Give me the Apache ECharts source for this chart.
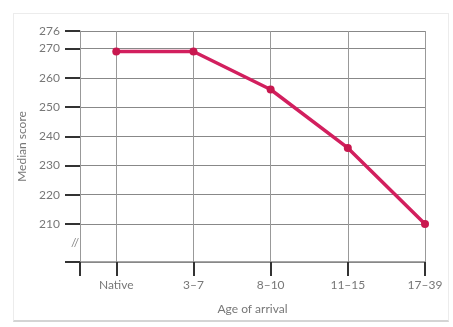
<!DOCTYPE html>
<html><head><meta charset="utf-8">
<script src="https://cdn.jsdelivr.net/npm/echarts@6/dist/echarts.min.js"></script>
<style>
html,body{margin:0;padding:0;background:#fff;}
#frame{position:absolute;left:13px;top:13px;width:434px;height:306px;border:1px solid #ececec;border-bottom:2px solid #d4d4d4;}
#c{position:absolute;left:0;top:0;width:453px;height:327px;}
</style></head>
<body>
<div id="frame"></div>
<div id="c"></div>
<script>
const categories = ["Native", "3\u20137", "8\u201310", "11\u201315", "17\u201339"];
const medianScores = [269, 269, 256, 236, 210];
const yTickLabels = [276, 270, 260, 250, 240, 230, 220, 210];

const chart = echarts.init(document.getElementById('c'));
const font = 'Lato, "Open Sans", sans-serif';
const xMin = -0.47, xMax = 4, yMin = 197, yMax = 276;
const catIdx = categories.map((c, i) => i);

chart.setOption({
  animation: false,
  grid: {left: 80, right: 28, top: 31, bottom: 65, containLabel: false},
  xAxis: {
    type: 'value', min: xMin, max: xMax,
    name: 'Age of arrival', nameLocation: 'middle', nameGap: 41,
    nameTextStyle: {color: '#777', fontSize: 12, fontFamily: font},
    axisLine: {show: true, onZero: false, lineStyle: {color: '#888', width: 1.5}},
    axisTick: {show: true, customValues: [xMin].concat(catIdx), length: 14, lineStyle: {color: '#333', width: 2}},
    axisLabel: {customValues: catIdx, formatter: v => categories[Math.round(v)] || '', color: '#777', fontSize: 12, fontFamily: font, margin: 17},
    splitLine: {show: true, lineStyle: {color: '#999', width: 1}}
  },
  yAxis: {
    type: 'value', min: yMin, max: yMax,
    name: 'Median score', nameLocation: 'middle', nameGap: 43,
    nameTextStyle: {color: '#777', fontSize: 12, fontFamily: font},
    axisLine: {show: true, onZero: false, lineStyle: {color: '#999', width: 1}},
    axisTick: {show: true, customValues: yTickLabels.concat([yMin]), length: 15, lineStyle: {color: '#333', width: 2}},
    axisLabel: {customValues: yTickLabels, color: '#777', fontSize: 12, fontFamily: font, margin: 20},
    splitLine: {show: true, lineStyle: {color: '#888', width: 1}}
  },
  graphic: [{
    type: 'text', left: 71, top: 237,
    style: {text: '//', fill: '#888', font: '12px ' + font}
  }],
  series: [{
    type: 'line',
    data: medianScores.map((v, i) => [i, v]),
    lineStyle: {color: '#d21f5e', width: 3.5},
    itemStyle: {color: '#c8184f'},
    symbol: 'circle', symbolSize: 8,
    clip: false
  }]
});
</script>
</body></html>
